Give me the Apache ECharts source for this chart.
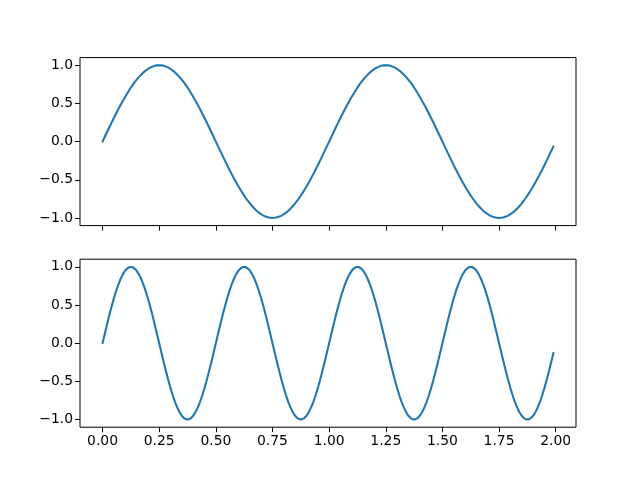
<!DOCTYPE html>
<html><head><meta charset="utf-8">
<script src="https://cdn.jsdelivr.net/npm/echarts@6/dist/echarts.min.js"></script>
<style>html,body{margin:0;padding:0;background:#fff}#c{width:640px;height:480px}</style>
</head><body><div id="c"></div>
<script>
const t = [0,0.01,0.02,0.03,0.04,0.05,0.06,0.07,0.08,0.09,0.1,0.11,0.12,0.13,0.14,0.15,0.16,0.17,0.18,0.19,0.2,0.21,0.22,0.23,0.24,0.25,0.26,0.27,0.28,0.29,0.3,0.31,0.32,0.33,0.34,0.35,0.36,0.37,0.38,0.39,0.4,0.41,0.42,0.43,0.44,0.45,0.46,0.47,0.48,0.49,0.5,0.51,0.52,0.53,0.54,0.55,0.56,0.57,0.58,0.59,0.6,0.61,0.62,0.63,0.64,0.65,0.66,0.67,0.68,0.69,0.7,0.71,0.72,0.73,0.74,0.75,0.76,0.77,0.78,0.79,0.8,0.81,0.82,0.83,0.84,0.85,0.86,0.87,0.88,0.89,0.9,0.91,0.92,0.93,0.94,0.95,0.96,0.97,0.98,0.99,
1,1.01,1.02,1.03,1.04,1.05,1.06,1.07,1.08,1.09,1.1,1.11,1.12,1.13,1.14,1.15,1.16,1.17,1.18,1.19,1.2,1.21,1.22,1.23,1.24,1.25,1.26,1.27,1.28,1.29,1.3,1.31,1.32,1.33,1.34,1.35,1.36,1.37,1.38,1.39,1.4,1.41,1.42,1.43,1.44,1.45,1.46,1.47,1.48,1.49,1.5,1.51,1.52,1.53,1.54,1.55,1.56,1.57,1.58,1.59,1.6,1.61,1.62,1.63,1.64,1.65,1.66,1.67,1.68,1.69,1.7,1.71,1.72,1.73,1.74,1.75,1.76,1.77,1.78,1.79,1.8,1.81,1.82,1.83,1.84,1.85,1.86,1.87,1.88,1.89,1.9,1.91,1.92,1.93,1.94,1.95,1.96,1.97,1.98,1.99];

const s1 = [0,.063,.125,.187,.249,.309,.368,.426,.482,.536,.588,.637,.685,.729,.771,.809,.844,.876,.905,.930,.951,.969,.982,.992,.998,1,.998,.992,.982,.969,.951,.930,.905,.876,.844,.809,.771,.729,.685,.637,.588,.536,.482,.426,.368,.309,.249,.187,.125,.063,
0,-.063,-.125,-.187,-.249,-.309,-.368,-.426,-.482,-.536,-.588,-.637,-.685,-.729,-.771,-.809,-.844,-.876,-.905,-.930,-.951,-.969,-.982,-.992,-.998,-1,-.998,-.992,-.982,-.969,-.951,-.930,-.905,-.876,-.844,-.809,-.771,-.729,-.685,-.637,-.588,-.536,-.482,-.426,-.368,-.309,-.249,-.187,-.125,-.063,
0,.063,.125,.187,.249,.309,.368,.426,.482,.536,.588,.637,.685,.729,.771,.809,.844,.876,.905,.930,.951,.969,.982,.992,.998,1,.998,.992,.982,.969,.951,.930,.905,.876,.844,.809,.771,.729,.685,.637,.588,.536,.482,.426,.368,.309,.249,.187,.125,.063,
0,-.063,-.125,-.187,-.249,-.309,-.368,-.426,-.482,-.536,-.588,-.637,-.685,-.729,-.771,-.809,-.844,-.876,-.905,-.930,-.951,-.969,-.982,-.992,-.998,-1,-.998,-.992,-.982,-.969,-.951,-.930,-.905,-.876,-.844,-.809,-.771,-.729,-.685,-.637,-.588,-.536,-.482,-.426,-.368,-.309,-.249,-.187,-.125,-.063];

const s2 = [0,.125,.249,.368,.482,.588,.685,.771,.844,.905,.951,.982,.998,.998,.982,.951,.905,.844,.771,.685,.588,.482,.368,.249,.125,
0,-.125,-.249,-.368,-.482,-.588,-.685,-.771,-.844,-.905,-.951,-.982,-.998,-.998,-.982,-.951,-.905,-.844,-.771,-.685,-.588,-.482,-.368,-.249,-.125,
0,.125,.249,.368,.482,.588,.685,.771,.844,.905,.951,.982,.998,.998,.982,.951,.905,.844,.771,.685,.588,.482,.368,.249,.125,
0,-.125,-.249,-.368,-.482,-.588,-.685,-.771,-.844,-.905,-.951,-.982,-.998,-.998,-.982,-.951,-.905,-.844,-.771,-.685,-.588,-.482,-.368,-.249,-.125,
0,.125,.249,.368,.482,.588,.685,.771,.844,.905,.951,.982,.998,.998,.982,.951,.905,.844,.771,.685,.588,.482,.368,.249,.125,
0,-.125,-.249,-.368,-.482,-.588,-.685,-.771,-.844,-.905,-.951,-.982,-.998,-.998,-.982,-.951,-.905,-.844,-.771,-.685,-.588,-.482,-.368,-.249,-.125,
0,.125,.249,.368,.482,.588,.685,.771,.844,.905,.951,.982,.998,.998,.982,.951,.905,.844,.771,.685,.588,.482,.368,.249,.125,
0,-.125,-.249,-.368,-.482,-.588,-.685,-.771,-.844,-.905,-.951,-.982,-.998,-.998,-.982,-.951,-.905,-.844,-.771,-.685,-.588,-.482,-.368,-.249,-.125];

const xTicks = [0,0.25,0.5,0.75,1,1.25,1.5,1.75,2];
const yTicks = [-1,-0.5,0,0.5,1];

const font = {fontFamily:'DejaVu Sans', fontSize:13.9, color:'#000'};
const minus = s => s.replace('-', '\u2212');

function xAxis(idx, showLabel){
  return {type:'value', gridIndex:idx, min:-0.0995, max:2.0895,
    axisLine:{show:false, onZero:false}, splitLine:{show:false},
    axisTick:{show:true, inside:false, length:5, lineStyle:{color:'#000', width:1}, customValues:xTicks},
    axisLabel:Object.assign({show:showLabel, margin:7, customValues:xTicks, formatter:v=>minus(v.toFixed(2))}, font)};
}
function yAxis(idx){
  return {type:'value', gridIndex:idx, min:-1.1, max:1.1,
    axisLine:{show:false, onZero:false}, splitLine:{show:false},
    axisTick:{show:true, inside:false, length:5, lineStyle:{color:'#000', width:1}, customValues:yTicks},
    axisLabel:Object.assign({show:true, margin:7, customValues:yTicks, formatter:v=>minus(v.toFixed(1))}, font)};
}
const pairs = ys => t.map((x,i)=>[x, ys[i]]);
const line = (idx, ys) => ({type:'line', xAxisIndex:idx, yAxisIndex:idx, data:pairs(ys), showSymbol:false, symbol:'none',
  lineStyle:{color:'#1f77b4', width:2.08, join:'round', cap:'round'}, itemStyle:{color:'#1f77b4'}, z:1});

const chart = echarts.init(document.getElementById('c'), null, {renderer:'canvas'});
chart.setOption({
  animation:false,
  backgroundColor:'#fff',
  grid:[
    {left:80, width:496, top:57.6, height:168, show:true, borderColor:'#000', borderWidth:1, backgroundColor:'transparent', z:3},
    {left:80, width:496, top:259.2, height:168, show:true, borderColor:'#000', borderWidth:1, backgroundColor:'transparent', z:3}
  ],
  xAxis:[xAxis(0,false), xAxis(1,true)],
  yAxis:[yAxis(0), yAxis(1)],
  series:[line(0,s1), line(1,s2)]
});
</script></body></html>
